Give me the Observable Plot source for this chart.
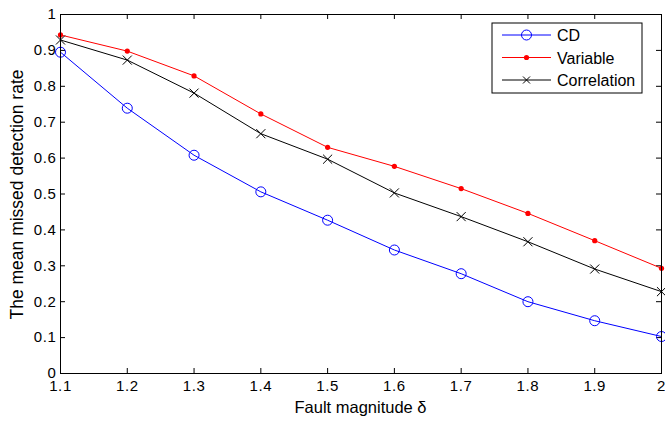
<!DOCTYPE html>
<html>
<head>
<meta charset="utf-8">
<script src="https://cdn.jsdelivr.net/npm/d3@7"></script>
<script src="https://cdn.jsdelivr.net/npm/@observablehq/plot@0.6"></script>
<style>
  html, body { margin: 0; padding: 0; background: #fff; }
  #chart { width: 665px; height: 423px; }
  .tk text { letter-spacing: 0.6px; }
</style>
</head>
<body>
<div id="chart"></div>
<script>
const magnitudes = [1.1, 1.2, 1.3, 1.4, 1.5, 1.6, 1.7, 1.8, 1.9, 2.0];
const cdValues = [0.895, 0.739, 0.608, 0.506, 0.427, 0.344, 0.278, 0.200, 0.147, 0.103];
const variableValues = [0.943, 0.898, 0.829, 0.723, 0.630, 0.577, 0.515, 0.446, 0.370, 0.293];
const correlationValues = [0.929, 0.873, 0.781, 0.668, 0.597, 0.503, 0.437, 0.367, 0.291, 0.228];
const seriesNames = ["CD", "Variable", "Correlation"];
const seriesColors = ["#0000ff", "#ff0000", "#000000"];
const xTicks = [1.1, 1.2, 1.3, 1.4, 1.5, 1.6, 1.7, 1.8, 1.9, 2];
const xTickLabels = ["1.1", "1.2", "1.3", "1.4", "1.5", "1.6", "1.7", "1.8", "1.9", "2"];
const yTicks = [0, 0.1, 0.2, 0.3, 0.4, 0.5, 0.6, 0.7, 0.8, 0.9, 1];
const yTickLabels = ["0", "0.1", "0.2", "0.3", "0.4", "0.5", "0.6", "0.7", "0.8", "0.9", "1"];
const xLabel = "Fault magnitude δ";
const yLabel = "The mean missed detection rate";

const W = 665, H = 423;
const mL = 60, mR = 4, mT = 14, mB = 50;

const rows = (vals, name) => magnitudes.map((m, i) => ({x: m, y: vals[i], s: name}));
const cd = rows(cdValues, "CD");
const vr = rows(variableValues, "Variable");
const co = rows(correlationValues, "Correlation");

const xDom = [1.1, 2], yDom = [0, 1];
const tickPx = 5;
const tx = tickPx / (W - mL - mR) * (xDom[1] - xDom[0]);
const ty = tickPx / (H - mT - mB) * (yDom[1] - yDom[0]);

const font = "'Liberation Sans', Arial, Helvetica, sans-serif";

const plot = Plot.plot({
  width: W, height: H,
  marginLeft: mL, marginRight: mR, marginTop: mT, marginBottom: mB,
  style: {fontFamily: font, fontSize: "15px", color: "#000", background: "#fff", overflow: "visible"},
  x: {domain: xDom},
  y: {domain: yDom},
  marks: [
    Plot.axisX(xTicks, {tickSize: 0, tickPadding: 7, fontSize: 15, className: "tk", tickFormat: (d, i) => xTickLabels[i], label: null}),
    Plot.axisY(yTicks, {tickSize: 0, tickPadding: 4, fontSize: 15, className: "tk", tickFormat: (d, i) => yTickLabels[i], label: null}),
    // inward ticks on all four sides
    Plot.ruleX(xTicks, {x: d => d, y1: yDom[0], y2: yDom[0] + ty, stroke: "#000"}),
    Plot.ruleX(xTicks, {x: d => d, y1: yDom[1], y2: yDom[1] - ty, stroke: "#000"}),
    Plot.ruleY(yTicks, {y: d => d, x1: xDom[0], x2: xDom[0] + tx, stroke: "#000"}),
    Plot.ruleY(yTicks, {y: d => d, x1: xDom[1], x2: xDom[1] - tx, stroke: "#000"}),
    Plot.lineY(cd, {x: "x", y: "y", stroke: seriesColors[0], strokeWidth: 1}),
    Plot.lineY(vr, {x: "x", y: "y", stroke: seriesColors[1], strokeWidth: 1}),
    Plot.lineY(co, {x: "x", y: "y", stroke: seriesColors[2], strokeWidth: 1}),
    Plot.dot(cd, {x: "x", y: "y", r: 5, stroke: seriesColors[0], fill: "none", strokeWidth: 1}),
    Plot.dot(vr, {x: "x", y: "y", r: 2.6, fill: seriesColors[1], stroke: "none"}),
    Plot.dot(co, {x: "x", y: "y", symbol: "times", r: 4.2, stroke: seriesColors[2], strokeWidth: 1}),
    Plot.frame({stroke: "#000", strokeWidth: 1})
  ]
});

document.getElementById("chart").appendChild(plot);

const svg = d3.select(plot);
const xs = plot.scale("x"), ys = plot.scale("y");
const cx = (xs.apply(xDom[0]) + xs.apply(xDom[1])) / 2;
const cy = (ys.apply(yDom[0]) + ys.apply(yDom[1])) / 2;

svg.append("text")
  .attr("x", cx).attr("y", 413)
  .attr("text-anchor", "middle")
  .style("font-family", font).style("font-size", "16.5px").attr("fill", "#000")
  .text(xLabel);

svg.append("text")
  .attr("transform", `translate(23,${cy + 1}) rotate(-90)`)
  .attr("text-anchor", "middle")
  .style("font-family", font).style("font-size", "17.5px").attr("fill", "#000")
  .text(yLabel);

// legend
const lg = svg.append("g").attr("transform", "translate(492,23)");
lg.append("rect").attr("x", 0).attr("y", 0).attr("width", 150).attr("height", 70)
  .attr("fill", "#fff").attr("stroke", "#000").attr("stroke-width", 1);
seriesNames.forEach((name, i) => {
  const yy = 12 + i * 22.5;
  lg.append("line").attr("x1", 10).attr("x2", 59).attr("y1", yy).attr("y2", yy)
    .attr("stroke", seriesColors[i]).attr("stroke-width", 1);
  if (i === 0) {
    lg.append("circle").attr("cx", 34.5).attr("cy", yy).attr("r", 5)
      .attr("fill", "none").attr("stroke", seriesColors[i]);
  } else if (i === 1) {
    lg.append("circle").attr("cx", 34.5).attr("cy", yy).attr("r", 2.6)
      .attr("fill", seriesColors[i]);
  } else {
    lg.append("path").attr("d", `M${34.5-3.5},${yy-3.5}L${34.5+3.5},${yy+3.5}M${34.5-3.5},${yy+3.5}L${34.5+3.5},${yy-3.5}`)
      .attr("stroke", seriesColors[i]).attr("stroke-width", 1);
  }
  lg.append("text").attr("x", 65).attr("y", yy + 6)
    .attr("text-anchor", "start")
    .style("font-family", font).style("font-size", "16px").attr("fill", "#000")
    .text(name);
});
</script>
</body>
</html>
